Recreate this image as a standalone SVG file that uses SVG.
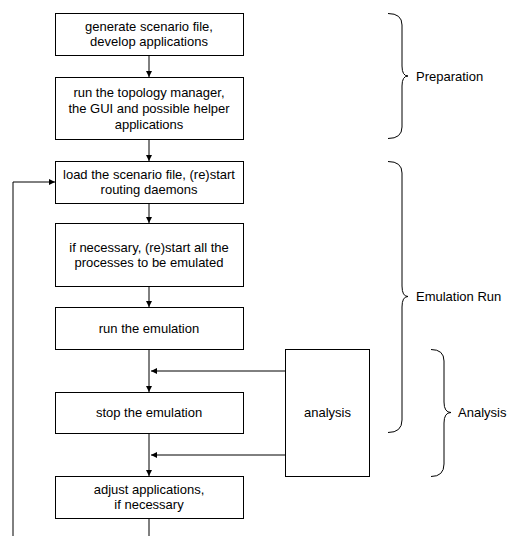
<svg xmlns="http://www.w3.org/2000/svg" width="512" height="536" viewBox="0 0 512 536">
<defs>
<style>
.box{fill:#fff;stroke:#000;stroke-width:1}
.t{font-family:"Liberation Sans",Arial,sans-serif;font-size:13px;fill:#000;text-anchor:middle}
.l{font-family:"Liberation Sans",Arial,sans-serif;font-size:13px;fill:#000}
.c{fill:none;stroke:#000;stroke-width:1}
.br{fill:none;stroke:#000;stroke-width:1}
</style>
<marker id="ah" markerWidth="8" markerHeight="8" refX="7" refY="4" orient="auto" markerUnits="userSpaceOnUse">
<path d="M1,1 L7,4 L1,7 Z" fill="#000"/>
</marker>
</defs>
<rect width="512" height="536" fill="#fff"/>
<g id="connectors">
<line class="c" x1="149" y1="55" x2="149" y2="77" marker-end="url(#ah)"/>
<line class="c" x1="149" y1="139" x2="149" y2="161" marker-end="url(#ah)"/>
<line class="c" x1="149" y1="203" x2="149" y2="223" marker-end="url(#ah)"/>
<line class="c" x1="149" y1="287" x2="149" y2="307" marker-end="url(#ah)"/>
<line class="c" x1="149" y1="349" x2="149" y2="392" marker-end="url(#ah)"/>
<line class="c" x1="149" y1="433" x2="149" y2="476" marker-end="url(#ah)"/>
<line class="c" x1="285" y1="371" x2="151" y2="371" marker-end="url(#ah)"/>
<line class="c" x1="285" y1="455" x2="151" y2="455" marker-end="url(#ah)"/>
<path class="c" d="M149,518 V545 H13 V182 H55" marker-end="url(#ah)"/>
</g>
<g id="n1"><rect class="box" x="55.5" y="13.5" width="188" height="42"/>
<text class="t" x="149" y="31">generate scenario file,</text><text class="t" x="149" y="46">develop applications</text></g>
<g id="n2"><rect class="box" x="55.5" y="77.5" width="188" height="62"/>
<text class="t" x="149" y="97">run the topology manager,</text><text class="t" x="149" y="113">the GUI and possible helper</text><text class="t" x="149" y="129">applications</text></g>
<g id="n3"><rect class="box" x="55.5" y="161.5" width="188" height="42"/>
<text class="t" x="149" y="179">load the scenario file, (re)start</text><text class="t" x="149" y="194">routing daemons</text></g>
<g id="n4"><rect class="box" x="55.5" y="223.5" width="188" height="63"/>
<text class="t" x="149" y="252">if necessary, (re)start all the</text><text class="t" x="149" y="267">processes to be emulated</text></g>
<g id="n5"><rect class="box" x="55.5" y="307.5" width="188" height="42"/>
<text class="t" x="149" y="332.5">run the emulation</text></g>
<g id="n6"><rect class="box" x="55.5" y="392.5" width="188" height="41"/>
<text class="t" x="149" y="417">stop the emulation</text></g>
<g id="n7"><rect class="box" x="55.5" y="476.5" width="188" height="42"/>
<text class="t" x="149" y="494">adjust applications,</text><text class="t" x="149" y="509">if necessary</text></g>
<g id="analysis"><rect class="box" x="285.5" y="349.5" width="84" height="127"/>
<text class="t" x="327.5" y="417">analysis</text></g>
<g id="brace-preparation">
<path class="br" d="M388,13.5 Q402,13.5 402,25 V66 Q402,76 408,76 Q402,76 402,86 V127 Q402,138.5 388,138.5"/>
<text class="l" x="416" y="80.5">Preparation</text></g>
<g id="brace-emulation">
<path class="br" d="M388,161.5 Q402,161.5 402,173 V286 Q402,296.5 408,296.5 Q402,296.5 402,307 V420 Q402,432.5 388,432.5"/>
<text class="l" x="416" y="301">Emulation Run</text></g>
<g id="brace-analysis">
<path class="br" d="M431,349.5 Q444,349.5 444,361 V402 Q444,412.5 451,412.5 Q444,412.5 444,423 V464 Q444,476.5 431,476.5"/>
<text class="l" x="458" y="417">Analysis</text></g>
</svg>
